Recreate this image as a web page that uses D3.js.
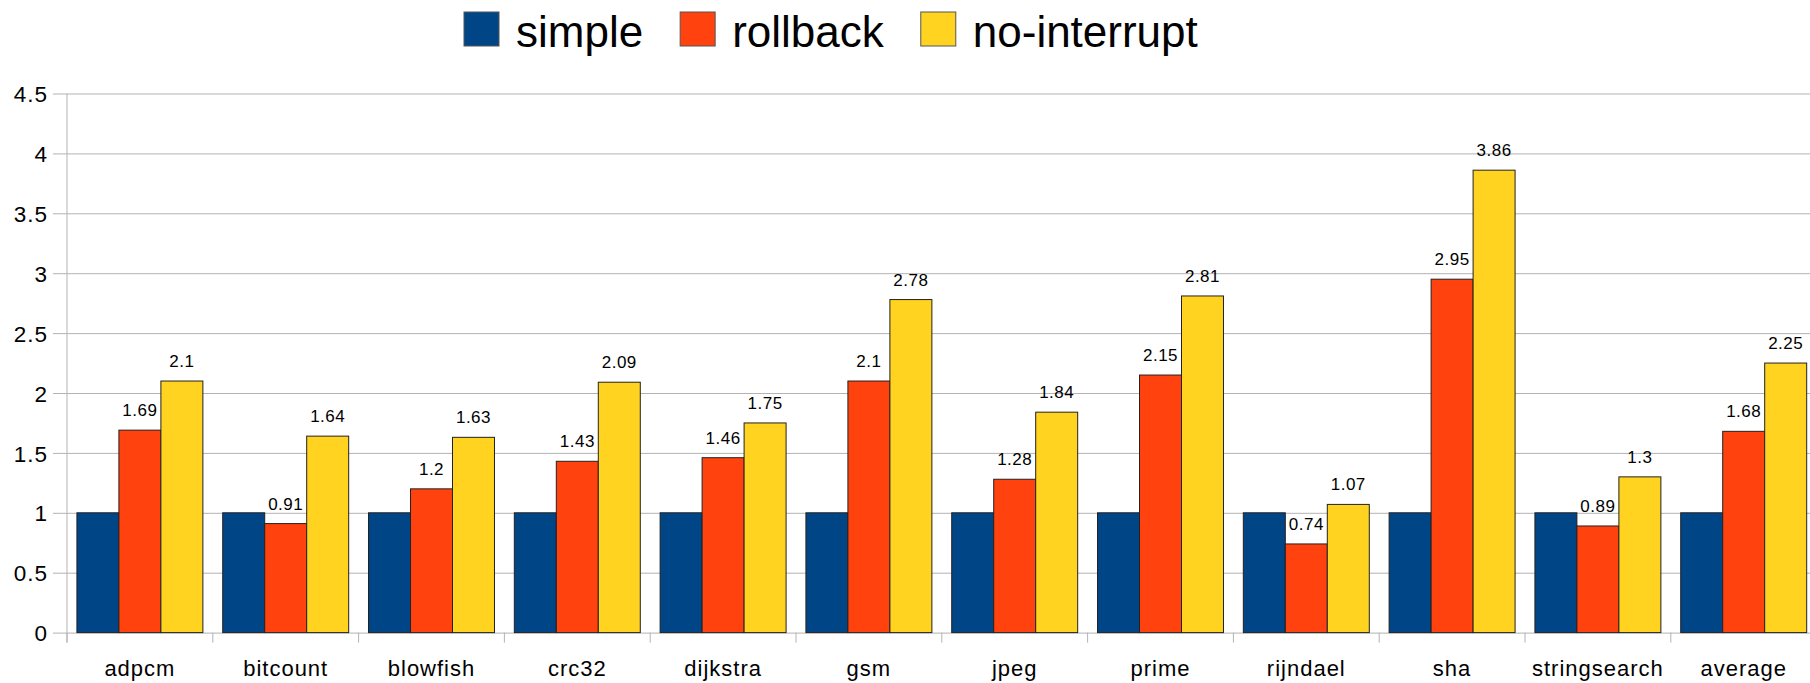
<!DOCTYPE html>
<html>
<head>
<meta charset="utf-8">
<script src="https://cdn.jsdelivr.net/npm/d3@7"></script>
<style>
  html, body { margin: 0; padding: 0; background: #fff; }
  svg { display: block; font-family: "Liberation Sans", Arial, sans-serif; }
</style>
</head>
<body>
<svg id="chart" width="1810" height="683"></svg>
<script>
const categories = ["adpcm","bitcount","blowfish","crc32","dijkstra","gsm","jpeg","prime","rijndael","sha","stringsearch","average"];
const seriesNames = ["simple","rollback","no-interrupt"];
const simple      = [1,1,1,1,1,1,1,1,1,1,1,1];
const rollback    = [1.69,0.91,1.2,1.43,1.46,2.1,1.28,2.15,0.74,2.95,0.89,1.68];
const noInterrupt = [2.1,1.64,1.63,2.09,1.75,2.78,1.84,2.81,1.07,3.86,1.3,2.25];
const yTicks = [0,0.5,1,1.5,2,2.5,3,3.5,4,4.5];
const colors = ["#004586","#ff420e","#ffd320"];
const showLabel = [false, true, true];

(function () {
const series = [simple, rollback, noInterrupt];
const svg = d3.select("#chart");
const W = 1810;
const plotLeft = 67, plotBottom = 632.6, plotTop = 93.5;
const step = 145.8;

const x = d3.scaleBand().domain(categories)
  .range([plotLeft, plotLeft + step * categories.length])
  .paddingInner(0.136).paddingOuter(0.068);
const xs = d3.scaleBand().domain(seriesNames).range([0, x.bandwidth()]);
const y = d3.scaleLinear().domain([0, 4.5]).range([plotBottom, plotTop]);

// Y axis with gridlines
const yAxis = svg.append("g").attr("transform", `translate(${plotLeft},0)`)
  .call(d3.axisLeft(y).tickValues(yTicks).tickSize(-(W - plotLeft)).tickSizeOuter(0).tickPadding(20)
    .tickFormat(d => String(d)));
yAxis.select(".domain").remove();
yAxis.selectAll(".tick line").attr("x1", -14).attr("stroke", "#b3b3b3").attr("stroke-width", 1);
yAxis.selectAll(".tick text").attr("font-size", 22.5).attr("letter-spacing", "1px")
  .attr("fill", "#000").attr("x", -19).attr("dy", "0.36em");

// vertical axis line
svg.append("line").attr("x1", plotLeft).attr("x2", plotLeft).attr("y1", y(4.5)).attr("y2", plotBottom + 10)
  .attr("stroke", "#b3b3b3").attr("stroke-width", 1);

// X axis: category boundary ticks and labels
const xAxis = svg.append("g").attr("transform", `translate(0,${plotBottom})`)
  .call(d3.axisBottom(x).tickSize(0).tickPadding(0));
xAxis.select(".domain").remove();
xAxis.selectAll(".tick text").attr("font-size", 22).attr("letter-spacing", "1px").attr("fill", "#000")
  .attr("y", 43.4).attr("dy", 0);
svg.append("g").selectAll("line").data(d3.range(categories.length + 1)).join("line")
  .attr("x1", i => plotLeft + i * x.step()).attr("x2", i => plotLeft + i * x.step())
  .attr("y1", plotBottom).attr("y2", plotBottom + 10)
  .attr("stroke", "#b3b3b3").attr("stroke-width", 1);

// Bars
const groups = svg.append("g").selectAll("g").data(categories).join("g")
  .attr("transform", d => `translate(${x(d)},0)`);
seriesNames.forEach((s, si) => {
  groups.append("rect")
    .attr("x", xs(s)).attr("width", xs.bandwidth())
    .attr("y", (d, i) => y(series[si][i]))
    .attr("height", (d, i) => plotBottom - y(series[si][i]))
    .attr("fill", colors[si]).attr("stroke", "#222").attr("stroke-width", 1);
  if (showLabel[si]) {
    groups.append("text")
      .attr("x", xs(s) + xs.bandwidth() / 2)
      .attr("y", (d, i) => y(series[si][i]) - 14)
      .attr("text-anchor", "middle").attr("font-size", 17).attr("letter-spacing", "0.5px")
      .attr("fill", "#000")
      .text((d, i) => String(series[si][i]));
  }
});

// Legend
const leg = svg.append("g");
let lx = 464;
seriesNames.forEach((s, si) => {
  leg.append("rect").attr("x", lx).attr("y", 12).attr("width", 35).attr("height", 34)
    .attr("fill", colors[si]).attr("stroke", "#555").attr("stroke-width", 1);
  const t = leg.append("text").attr("x", lx + 52).attr("y", 46.5).attr("font-size", 44)
    .attr("fill", "#000").text(s);
  lx = lx + 52 + t.node().getComputedTextLength() + 37;
});
})();
</script>
</body>
</html>
